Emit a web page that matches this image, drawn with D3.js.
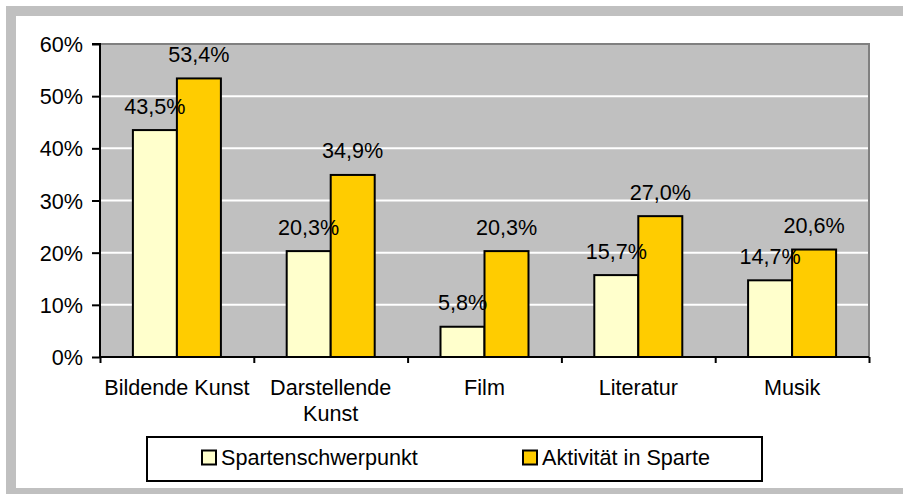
<!DOCTYPE html>
<html><head><meta charset="utf-8">
<script src="https://cdn.jsdelivr.net/npm/d3@7"></script>
<style>body{margin:0;background:#fff}svg{display:block;font-family:"Liberation Sans",Arial,sans-serif}</style>
</head><body>
<script>
const categories = [["Bildende Kunst"], ["Darstellende", "Kunst"], ["Film"], ["Literatur"], ["Musik"]];
const seriesNames = ["Spartenschwerpunkt", "Aktivität in Sparte"];
const spartenschwerpunkt = [43.5, 20.3, 5.8, 15.7, 14.7];
const aktivitaet = [53.4, 34.9, 20.3, 27.0, 20.6];
const yTicks = [0, 10, 20, 30, 40, 50, 60];
const colors = ["#FFFFCC", "#FFCC00"];

const W = 903, H = 494, FS = 21.6;
const svg = d3.select("body").append("svg").attr("width", W).attr("height", H);

// outer frame
svg.append("rect").attr("x", 11).attr("y", 11).attr("width", 910).attr("height", 482)
  .attr("fill", "none").attr("stroke", "#C0C0C0").attr("stroke-width", 10);

const L = 100, R = 869, T = 44, B = 357;
const x = d3.scaleBand().domain(d3.range(categories.length)).range([L, R]).paddingInner(0).paddingOuter(0);
const y = d3.scaleLinear().domain([0, 60]).range([B, T]);

// plot background
svg.append("rect").attr("x", L).attr("y", T).attr("width", R - L).attr("height", B - T).attr("fill", "#C0C0C0");
// gridlines
svg.append("g").selectAll("line").data(yTicks.filter(d => d > 0 && d < 60)).join("line")
  .attr("x1", L).attr("x2", R).attr("y1", d => y(d)).attr("y2", d => y(d))
  .attr("stroke", "#fff").attr("stroke-width", 2);
// plot border top/right
svg.append("path").attr("d", `M${L},${T}H${R}V${B}`).attr("fill", "none").attr("stroke", "#808080").attr("stroke-width", 2);

const barW = 44;
const groupOff = (x.bandwidth() - 2 * barW) / 2;
const series = [spartenschwerpunkt, aktivitaet];
series.forEach((vals, s) => {
  svg.append("g").selectAll("rect").data(vals).join("rect")
    .attr("x", (d, i) => x(i) + groupOff + s * barW)
    .attr("y", d => y(d))
    .attr("width", barW)
    .attr("height", d => B - y(d))
    .attr("fill", colors[s]).attr("stroke", "#000").attr("stroke-width", 2);
});
// data labels (drawn after bars)
series.forEach((vals, s) => {
  svg.append("g").selectAll("text").data(vals).join("text")
    .attr("x", (d, i) => x(i) + groupOff + s * barW + barW / 2)
    .attr("y", d => y(d) - 16.5)
    .attr("text-anchor", "middle").attr("font-size", FS).attr("fill", "#000")
    .text(d => d.toFixed(1).replace(".", ",") + "%");
});

// y axis
const yAxis = d3.axisLeft(y).tickValues(yTicks).tickSize(8).tickPadding(10).tickFormat(d => d + "%");
const ga = svg.append("g").attr("transform", `translate(${L},0)`).call(yAxis);
ga.select(".domain").attr("stroke", "#000").attr("stroke-width", 2).attr("d", `M-8,${T}H0V${B}`);
ga.selectAll(".tick line").attr("stroke", "#000").attr("stroke-width", 2);
ga.selectAll(".tick text").attr("font-size", FS).attr("font-family", "Liberation Sans, Arial, sans-serif")
  .attr("fill", "#000").attr("dy", null).attr("y", 7.5).attr("x", -17);

// x axis
const xb = d3.scaleLinear().domain([0, categories.length]).range([L, R]);
const gx = svg.append("g").attr("transform", `translate(0,${B})`)
  .call(d3.axisBottom(xb).ticks(categories.length).tickSize(6).tickFormat(""));
gx.select(".domain").attr("stroke", "#000").attr("stroke-width", 2).attr("d", `M${L},0H${R}`);
gx.selectAll(".tick line").attr("stroke", "#000").attr("stroke-width", 2);

svg.append("g").selectAll("text").data(categories).join("text")
  .attr("x", (d, i) => x(i) + x.bandwidth() / 2)
  .attr("y", 395)
  .attr("text-anchor", "middle").attr("font-size", FS).attr("fill", "#000")
  .each(function(d) {
    d3.select(this).selectAll("tspan").data(d).join("tspan")
      .attr("x", d3.select(this).attr("x")).attr("dy", (t, j) => j === 0 ? 0 : 26).text(t => t);
  });

// legend
svg.append("rect").attr("x", 147).attr("y", 437).attr("width", 615).attr("height", 44)
  .attr("fill", "#fff").attr("stroke", "#000").attr("stroke-width", 2);
const legendX = [202, 523];
seriesNames.forEach((n, s) => {
  svg.append("rect").attr("x", legendX[s]).attr("y", 450.5).attr("width", 14).attr("height", 14)
    .attr("fill", colors[s]).attr("stroke", "#000").attr("stroke-width", 2);
  svg.append("text").attr("x", legendX[s] + 19).attr("y", 465).attr("font-size", FS).attr("fill", "#000").text(n);
});
</script>
</body></html>
